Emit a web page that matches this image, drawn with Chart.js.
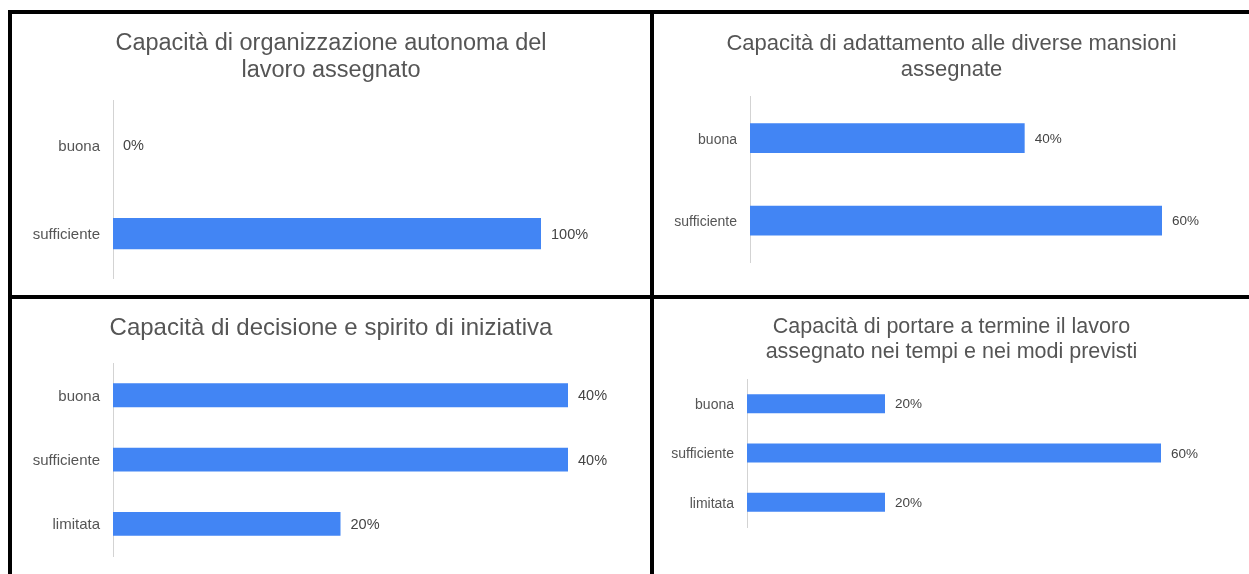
<!DOCTYPE html>
<html>
<head>
<meta charset="utf-8">
<script src="https://cdn.jsdelivr.net/npm/chart.js@4"></script>
<style>
  body { margin: 0; background: #fff; width: 1249px; height: 574px; overflow: hidden; position: relative; }
  .panel { position: absolute; }
  .rule { position: absolute; background: #000; }
</style>
</head>
<body>
<div class="rule" style="left:8px;top:10px;width:1241px;height:4px"></div>
<div class="rule" style="left:8px;top:295px;width:1241px;height:4px"></div>
<div class="rule" style="left:8px;top:10px;width:4px;height:564px"></div>
<div class="rule" style="left:650px;top:10px;width:4px;height:564px"></div>

<div class="panel" style="left:12px;top:14px;width:638px;height:281px"><canvas id="c1"></canvas></div>
<div class="panel" style="left:654px;top:14px;width:595px;height:281px"><canvas id="c2"></canvas></div>
<div class="panel" style="left:12px;top:299px;width:638px;height:275px"><canvas id="c3"></canvas></div>
<div class="panel" style="left:654px;top:299px;width:595px;height:275px"><canvas id="c4"></canvas></div>

<script>
const livelli2 = ['buona', 'sufficiente'];
const livelli3 = ['buona', 'sufficiente', 'limitata'];

const organizzazione = [0, 100];
const adattamento = [40, 60];
const decisione = [40, 40, 20];
const portare = [20, 60, 20];

const titolo1 = ['Capacità di organizzazione autonoma del', 'lavoro assegnato'];
const titolo2 = ['Capacità di adattamento alle diverse mansioni', 'assegnate'];
const titolo3 = 'Capacità di decisione e spirito di iniziativa';
const titolo4 = ['Capacità di portare a termine il lavoro', 'assegnato nei tempi e nei modi previsti'];

const FONT = "'Liberation Sans', Arial, sans-serif";

// percent labels at the end of each bar
const valueLabels = {
  id: 'valueLabels',
  afterDatasetsDraw(chart, args, opts) {
    const ctx = chart.ctx;
    const values = chart.data.datasets[0].data;
    ctx.save();
    ctx.font = opts.size + 'px ' + FONT;
    ctx.fillStyle = '#444444';
    ctx.textAlign = 'left';
    ctx.textBaseline = 'middle';
    chart.getDatasetMeta(0).data.forEach((bar, i) => {
      ctx.fillText(values[i] + '%', bar.x + 10, bar.y + 1);
    });
    ctx.restore();
  }
};

function makeChart(id, labels, values, title, s) {
  return new Chart(document.getElementById(id), {
    type: 'bar',
    data: {
      labels: labels,
      datasets: [{
        data: values,
        backgroundColor: '#4285F4',
        barPercentage: s.bar,
        categoryPercentage: 1
      }]
    },
    plugins: [valueLabels],
    options: {
      indexAxis: 'y',
      responsive: true,
      maintainAspectRatio: false,
      animation: false,
      layout: { padding: { left: 0, right: 0, top: 0, bottom: s.bottom } },
      plugins: {
        legend: { display: false },
        tooltip: { enabled: false },
        title: {
          display: true,
          text: title,
          color: '#555555',
          font: { family: FONT, size: s.title, weight: 'normal', lineHeight: s.lh },
          padding: { top: s.pt, bottom: s.pb }
        },
        valueLabels: { size: s.value }
      },
      scales: {
        x: {
          display: false,
          min: 0,
          bounds: 'data'
        },
        y: {
          grid: { display: false, drawTicks: true, tickLength: 10 },
          border: { display: true, color: '#d3d3d3', width: 1 },
          ticks: { color: '#555555', padding: 3, labelOffset: 1.5, font: { family: FONT, size: s.tick } },
          afterFit: (scale) => { scale.width = s.axis; }
        },
        spazio: {
          type: 'linear',
          position: 'right',
          grid: { display: false, drawTicks: false },
          border: { display: false },
          ticks: { display: false },
          afterFit: (scale) => { scale.width = s.right; }
        }
      }
    }
  });
}

makeChart('c1', livelli2, organizzazione, titolo1,
  { title: 23.5, lh: 1.15, pt: 16, pb: 16.5, axis: 101, right: 109, bottom: 17, bar: 0.35, tick: 15, value: 14.5 });
makeChart('c2', livelli2, adattamento, titolo2,
  { title: 22, lh: 1.18, pt: 16.5, pb: 14.5, axis: 96, right: 87, bottom: 33, bar: 0.36, tick: 14, value: 13.5 });
makeChart('c3', livelli3, decisione, titolo3,
  { title: 24, lh: 1.17, pt: 15.6, pb: 20.4, axis: 101, right: 82, bottom: 18, bar: 0.37, tick: 15, value: 14.5 });
makeChart('c4', livelli3, portare, titolo4,
  { title: 21.5, lh: 1.14, pt: 16, pb: 15, axis: 93, right: 88, bottom: 47, bar: 0.385, tick: 14, value: 13.5 });
</script>
</body>
</html>
